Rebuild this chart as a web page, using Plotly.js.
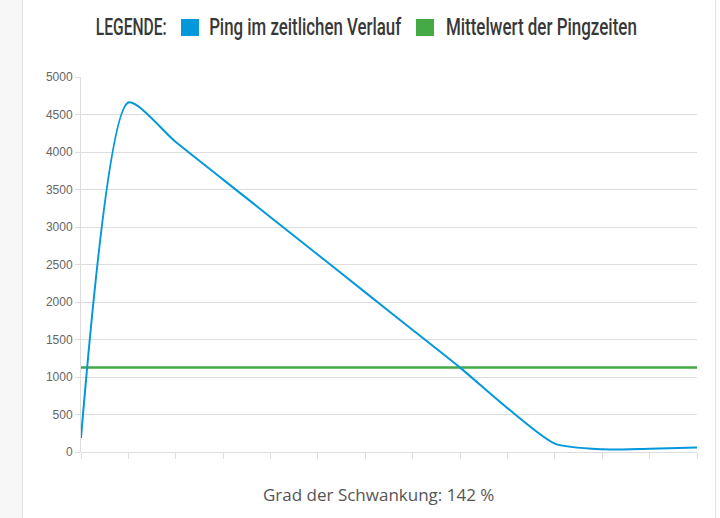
<!DOCTYPE html>
<html>
<head>
<meta charset="utf-8">
<script src="https://cdn.plot.ly/plotly-3.0.1.min.js"></script>
<style>
  html, body { margin: 0; padding: 0; }
  body {
    width: 720px; height: 518px; overflow: hidden;
    background: linear-gradient(to right, #f7f7f7 0, #f7f7f7 22px, #e3e3e3 22px, #e3e3e3 23px,
      #ffffff 23px, #ffffff 715px, #e3e3e3 715px, #e3e3e3 716px, #ffffff 716px);
  }
  #plot { width: 720px; height: 518px; }
</style>
</head>
<body>
<div id="plot"></div>
<script>
// ping measurements, one per tick
const pingSteps = [0, 1, 2, 3, 4, 5, 6, 7, 8, 9, 10, 11, 12, 13];
const pingTimes = [187, 4660, 4133, 3632, 3131, 2630, 2128, 1627, 1125, 585, 112, 36, 45, 60];
const meanPing = 1127;
const meanTimes = pingSteps.map(() => meanPing);
const yTicks = [0, 500, 1000, 1500, 2000, 2500, 3000, 3500, 4000, 4500, 5000];

const legendTitle = 'LEGENDE:';
const seriesNames = ['Ping im zeitlichen Verlauf', 'Mittelwert der Pingzeiten'];
const seriesColors = ['#0398db', '#45a945'];
const footer = 'Grad der Schwankung: 142 %';

// pixel -> paper helpers (plot area 81..697 x 77..452)
const L = 81, R = 23, T = 77, B = 66, W = 720 - L - R, H = 518 - T - B;
const px = x => (x - L) / W;
const py = y => (518 - B - y) / H;

// the legend font is a narrow one; squeeze the text to these pixel spans
const legendSpans = [[95, 166], [209, 401], [446, 637]];
const legendFont = {family: 'Roboto, "Liberation Sans", sans-serif', size: 23, weight: 500, color: '#383838'};

var ping = {
    x: pingSteps, y: pingTimes,
    type: 'scatter', mode: 'lines',
    line: {color: seriesColors[0], width: 2, shape: 'spline', smoothing: 0.65},
    hoverinfo: 'skip', showlegend: false
};
var mean = {
    x: pingSteps, y: meanTimes,
    type: 'scatter', mode: 'lines',
    line: {color: seriesColors[1], width: 2.5},
    hoverinfo: 'skip', showlegend: false
};

const legendTexts = [legendTitle, seriesNames[0], seriesNames[1]];
const legendAnnotations = legendTexts.map((t, i) => ({
    text: t, xref: 'paper', yref: 'paper',
    x: px((legendSpans[i][0] + legendSpans[i][1]) / 2), y: py(28),
    xanchor: 'center', yanchor: 'middle',
    showarrow: false, font: legendFont
}));

const layout = {
    width: 720, height: 518,
    paper_bgcolor: 'rgba(0,0,0,0)',
    plot_bgcolor: 'rgba(0,0,0,0)',
    margin: {l: L, r: R, t: T, b: B},
    xaxis: {
        range: [0, 13], tickvals: pingSteps, showticklabels: false,
        ticks: 'outside', ticklen: 6, tickcolor: '#dddddd',
        showgrid: false, zeroline: false,
        showline: false
    },
    yaxis: {
        range: [0, 5000], tickvals: yTicks,
        ticks: 'outside', ticklen: 5, tickcolor: '#dddddd',
        gridcolor: '#dddddd', gridwidth: 1,
        zeroline: true, zerolinecolor: '#dddddd', zerolinewidth: 1,
        showline: true, linecolor: '#dddddd', linewidth: 1,
        tickfont: {family: '"Liberation Sans", Arial, sans-serif', size: 12, color: '#666'}
    },
    shapes: [
        {type: 'rect', xref: 'paper', yref: 'paper', x0: px(181), x1: px(199), y0: py(36), y1: py(19),
         fillcolor: seriesColors[0], line: {width: 0}},
        {type: 'rect', xref: 'paper', yref: 'paper', x0: px(416), x1: px(434), y0: py(36), y1: py(19),
         fillcolor: seriesColors[1], line: {width: 0}}
    ],
    annotations: legendAnnotations.concat([
        {text: footer, xref: 'paper', yref: 'paper', x: px(378), y: py(494), xanchor: 'center', yanchor: 'middle',
         showarrow: false, font: {family: '"Open Sans", sans-serif', size: 17, color: '#555'}}
    ])
};

Plotly.newPlot('plot', [mean, ping], layout, {displayModeBar: false, staticPlot: true}).then(gd => {
    const texts = gd.querySelectorAll('.annotation-text');
    legendSpans.forEach((span, i) => {
        const el = texts[i];
        if (!el) return;
        el.setAttribute('textLength', span[1] - span[0]);
        el.setAttribute('lengthAdjust', 'spacingAndGlyphs');
    });
});
</script>
</body>
</html>
